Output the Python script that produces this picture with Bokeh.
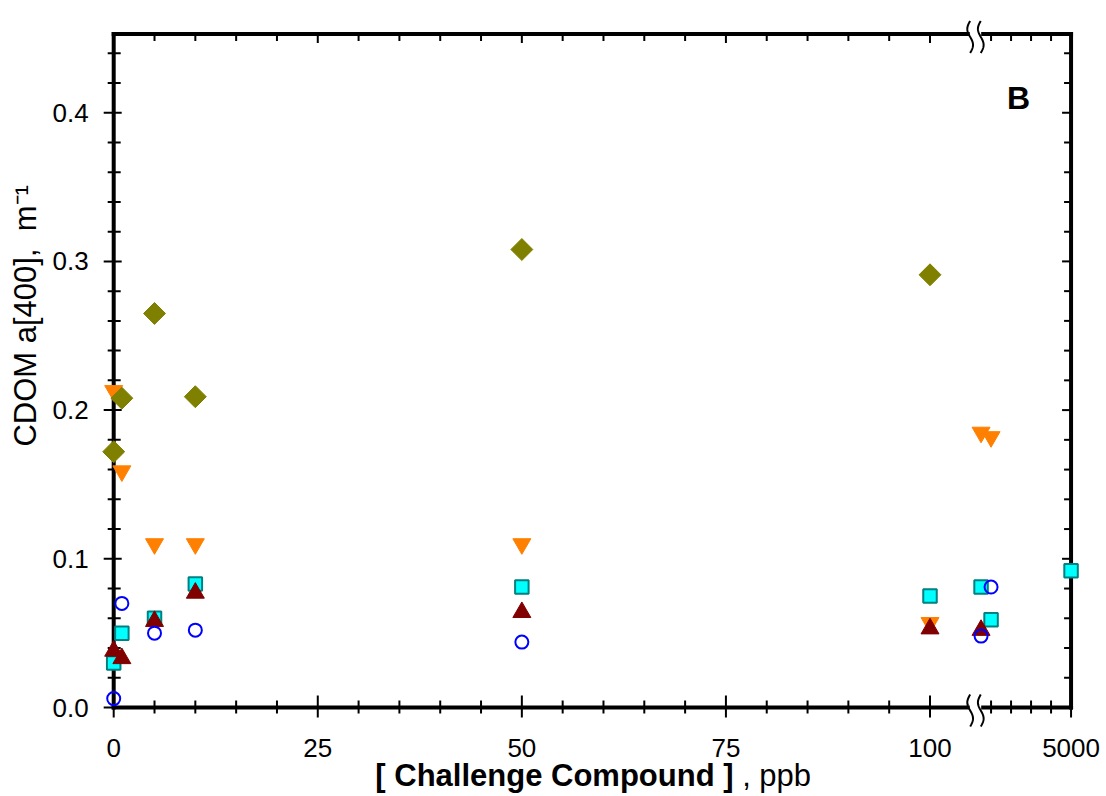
import numpy as np
from math import pi
from bokeh.plotting import figure
from bokeh.models import Range1d
from bokeh.core.properties import value
from bokeh.embed import file_html
from bokeh.resources import INLINE

# CDOM absorbance a[400] (m^-1) against challenge-compound concentration (ppb)
olive_ppb = [0, 1, 5, 10, 50, 100]
olive_a400 = [0.172, 0.208, 0.265, 0.209, 0.308, 0.291]

orange_ppb = [0, 1, 5, 10, 50, 100, 500, 1000]
orange_a400 = [0.213, 0.159, 0.110, 0.110, 0.110, 0.057, 0.185, 0.182]

cyan_ppb = [0, 1, 5, 10, 50, 100, 500, 1000, 5000]
cyan_a400 = [0.030, 0.050, 0.060, 0.083, 0.081, 0.075, 0.081, 0.059, 0.092]

maroon_ppb = [0, 1, 5, 10, 50, 100, 500]
maroon_a400 = [0.038, 0.033, 0.058, 0.077, 0.064, 0.053, 0.052]

blue_ppb = [0, 1, 5, 10, 50, 500, 1000]
blue_a400 = [0.006, 0.070, 0.050, 0.052, 0.044, 0.048, 0.081]

x_tick_ppb = [0, 25, 50, 75, 100, 5000]
x_minor_ppb = [5, 10, 15, 20, 30, 35, 40, 45, 55, 60, 65, 70, 80, 85, 90, 95,
               1000, 2000, 3000, 4000]
y_ticks = [0.0, 0.1, 0.2, 0.3, 0.4]
y_minor = [0.02, 0.04, 0.06, 0.08, 0.12, 0.14, 0.16, 0.18, 0.22, 0.24, 0.26,
           0.28, 0.32, 0.34, 0.36, 0.38, 0.42, 0.44]

# broken x axis: linear 0-100 ppb, then a compressed segment up to 5000 ppb
SEG2_ORIGIN = 105.03
SEG2_SCALE = 0.00245
U_BREAK = 105.57
Y_TOP = 0.453
FONT = "Liberation Sans"
NBSP = "\u00a0"

# canvas geometry: the frame fills the whole canvas, axes are drawn as glyphs
W, H = 1106, 796
X0_PX, PX_PER_U = 113.2, 8.163
Y0_PX, PX_PER_Y = 707.0, 1487.0


def to_axis(ppb):
    ppb = np.asarray(ppb, dtype=float)
    return np.where(ppb <= 100, ppb, SEG2_ORIGIN + ppb * SEG2_SCALE)


def dx(px):
    return px / PX_PER_U


def dy(px):
    return px / PX_PER_Y


U_MAX = float(to_axis([5000])[0])

p = figure(width=W, height=H, title=None,
           x_range=Range1d(-X0_PX / PX_PER_U, (W - X0_PX) / PX_PER_U),
           y_range=Range1d(-(H - Y0_PX) / PX_PER_Y, Y0_PX / PX_PER_Y),
           x_axis_type=None, y_axis_type=None,
           output_backend="svg", toolbar_location=None,
           min_border=0, min_border_left=0, min_border_right=0,
           min_border_top=0, min_border_bottom=0)
p.outline_line_color = None
p.background_fill_color = "white"
p.border_fill_color = "white"

x_major = to_axis(x_tick_ppb)
x_minor = to_axis(x_minor_ppb)


# tick marks
def ticks_x(xs, y_base, up, down):
    xs = list(xs)
    p.segment(x0=xs, x1=xs, y0=[y_base + dy(up)] * len(xs), y1=[y_base - dy(down)] * len(xs),
              line_color="black", line_width=2)


def ticks_y(ys, x_base, left, right):
    ys = list(ys)
    p.segment(x0=[x_base - dx(left)] * len(ys), x1=[x_base + dx(right)] * len(ys), y0=ys, y1=ys,
              line_color="black", line_width=2)


ticks_x(x_major, 0.0, 12, 10)
ticks_x(x_minor, 0.0, 7, 6)
ticks_x(x_major, Y_TOP, 0, 9)
ticks_x(x_minor, Y_TOP, 0, 7)
ticks_y(y_ticks, 0.0, 10, 8)
ticks_y(y_minor, 0.0, 6, 7)
ticks_y(y_ticks, U_MAX, 9, 0)
ticks_y(y_minor, U_MAX, 7, 0)

# frame lines
p.segment(x0=[0, 0, 0, U_MAX], x1=[U_MAX, U_MAX, 0, U_MAX],
          y0=[0, Y_TOP, 0, 0], y1=[0, Y_TOP, Y_TOP, Y_TOP],
          line_color="black", line_width=4, line_cap="square")

# axis-break marks on the bottom and top frame lines
t = np.linspace(0, 1, 40)
for y_axis in (0.0, Y_TOP):
    p.quad(left=[U_BREAK - 0.7], right=[U_BREAK + 0.7],
           bottom=[y_axis - dy(5)], top=[y_axis + dy(5)],
           fill_color="white", line_color=None)
    ys = (y_axis + dy(13)) - t * dy(32)
    for off in (-0.65, 0.65):
        xs = U_BREAK + off - 0.35 * np.sin(2 * pi * t)
        p.line(xs, ys, line_color="black", line_width=2)

# tick labels
p.text(x=list(x_major), y=[-dy(40)] * len(x_major), text=[str(v) for v in x_tick_ppb],
       text_font=value(FONT), text_font_size="26px", text_color="black",
       text_align="center", text_baseline="middle")
p.text(x=[-dx(25)] * len(y_ticks), y=y_ticks, text=["%.1f" % v for v in y_ticks],
       text_font=value(FONT), text_font_size="26px", text_color="black",
       text_align="right", text_baseline="middle")

# data
p.scatter(to_axis(cyan_ppb), cyan_a400, marker="square", size=13.5,
          fill_color="#00FFFF", line_color="#008080", line_width=2)
p.scatter(to_axis(orange_ppb), orange_a400, marker="inverted_triangle", size=18,
          fill_color="#FF8000", line_color="#FF8000", line_width=1)
p.scatter(to_axis(olive_ppb), olive_a400, marker="square", angle=pi / 4, size=15.5,
          fill_color="#808000", line_color="#808000", line_width=1)
p.scatter(to_axis(maroon_ppb), maroon_a400, marker="triangle", size=18,
          fill_color="#800000", line_color="#800000", line_width=1)
p.scatter(to_axis(blue_ppb), blue_a400, marker="circle", size=13,
          fill_color=None, line_color="#0000FF", line_width=2)

# axis titles and panel letter
x_title_at = 75.93
p.text(x=[x_title_at], y=[-dy(68)], text=["[ Challenge Compound ]"],
       text_font=value(FONT), text_font_size="31px", text_font_style="bold",
       text_color="black", text_align="right", text_baseline="middle")
p.text(x=[x_title_at], y=[-dy(68)], text=[NBSP + ", ppb"],
       text_font=value(FONT), text_font_size="31px",
       text_color="black", text_align="left", text_baseline="middle")
p.text(x=[-dx(88)], y=[0.2634], text=["CDOM a[400]," + NBSP + " m\u207b\u00b9"], angle=pi / 2,
       text_font=value(FONT), text_font_size="31px", text_color="black",
       text_align="center", text_baseline="middle")
p.text(x=[110.84], y=[0.41], text=["B"], text_font=value(FONT), text_font_size="32px",
       text_font_style="bold", text_color="black",
       text_align="center", text_baseline="middle")

open("out.html", "w").write(file_html(p, INLINE))
